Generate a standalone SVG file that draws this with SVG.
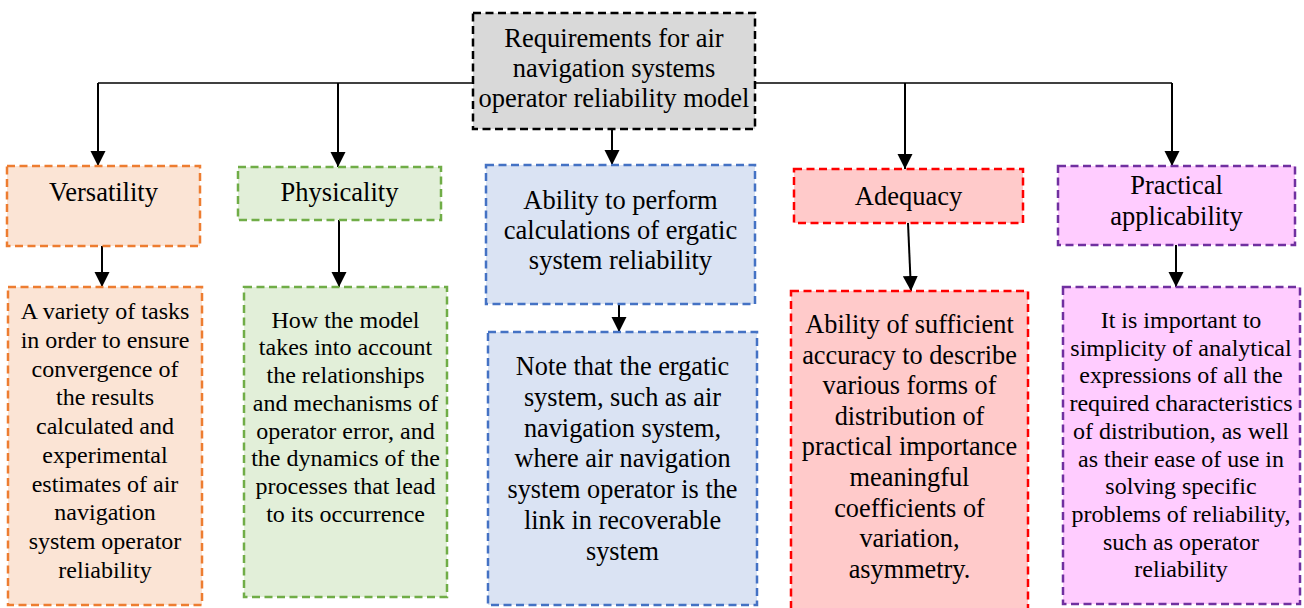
<svg xmlns="http://www.w3.org/2000/svg" width="1304" height="608" viewBox="0 0 1304 608">
  <style>
    text { font-family: "Liberation Serif", "Times New Roman", serif; fill: #000; text-anchor: middle; }
    .h { font-size: 26.5px; }
    .d { font-size: 24px; }
    .d26 { font-size: 26.3px; }
    .box { stroke-width: 2.5; stroke-dasharray: 8 4.5; }
    .root { fill: #d9d9d9; stroke: #000; }
    .org { fill: #fbe4d5; stroke: #ed7d31; }
    .grn { fill: #e2efd9; stroke: #70ad47; }
    .blu { fill: #dae3f3; stroke: #4472c4; }
    .red { fill: #ffcaca; stroke: #ff0000; }
    .pur { fill: #ffccff; stroke: #7030a0; }
    .wire { fill: none; stroke: #000; stroke-width: 1.6; }
    .arr { fill: none; stroke: #000; stroke-width: 2; marker-end: url(#head); }
  </style>
  <defs>
    <marker id="head" markerUnits="userSpaceOnUse" markerWidth="16" markerHeight="16" refX="15" refY="7.5" orient="auto">
      <path d="M0,0 L15,7.5 L0,15 z" fill="#000"/>
    </marker>
  </defs>

  <!-- connectors -->
  <g id="connectors">
    <path class="wire" d="M98,83 H1172"/>
    <path class="arr" d="M98,83 V166"/>
    <path class="arr" d="M338,83 V167"/>
    <path class="arr" d="M905,83 V169"/>
    <path class="arr" d="M1172,83 V166"/>
    <path class="arr" d="M612,129 V165"/>
    <path class="arr" d="M102,246 V287"/>
    <path class="arr" d="M339,220 V287"/>
    <path class="arr" d="M619,304 V332"/>
    <path class="arr" d="M908,223 L911,291"/>
    <path class="arr" d="M1176,245 V287"/>
  </g>

  <!-- root -->
  <g id="root">
    <rect class="box root" x="473" y="13" width="282" height="116"/>
    <text class="h" x="614" y="47">Requirements for air</text>
    <text class="h" x="614" y="77">navigation systems</text>
    <text class="h" x="614" y="107">operator reliability model</text>
  </g>

  <!-- requirement headings -->
  <g id="versatility">
    <rect class="box org" x="7" y="166" width="193" height="80"/>
    <text class="h" x="103.5" y="201">Versatility</text>
  </g>
  <g id="physicality">
    <rect class="box grn" x="238" y="167" width="203" height="53"/>
    <text class="h" x="339.5" y="201">Physicality</text>
  </g>
  <g id="calculations">
    <rect class="box blu" x="486" y="165" width="269" height="139"/>
    <text class="h" x="620.5" y="209">Ability to perform</text>
    <text class="h" x="620.5" y="239">calculations of ergatic</text>
    <text class="h" x="620.5" y="269">system reliability</text>
  </g>
  <g id="adequacy">
    <rect class="box red" x="794" y="169" width="229" height="54"/>
    <text class="h" x="908.5" y="205">Adequacy</text>
  </g>
  <g id="applicability">
    <rect class="box pur" x="1058" y="166" width="237" height="79"/>
    <text class="h" x="1176.5" y="194">Practical</text>
    <text class="h" x="1176.5" y="225">applicability</text>
  </g>

  <!-- descriptions -->
  <g id="versatility-detail">
    <rect class="box org" x="8" y="287" width="194" height="318"/>
    <text class="d" x="105" y="319.3">A variety of tasks</text>
    <text class="d" x="105" y="348">in order to ensure</text>
    <text class="d" x="105" y="376.7">convergence of</text>
    <text class="d" x="105" y="405.4">the results</text>
    <text class="d" x="105" y="434.1">calculated and</text>
    <text class="d" x="105" y="462.8">experimental</text>
    <text class="d" x="105" y="491.5">estimates of air</text>
    <text class="d" x="105" y="520.2">navigation</text>
    <text class="d" x="105" y="548.9">system operator</text>
    <text class="d" x="105" y="577.6">reliability</text>
  </g>
  <g id="physicality-detail">
    <rect class="box grn" x="244" y="287" width="203" height="310"/>
    <text class="d" x="345.5" y="327.7">How the model</text>
    <text class="d" x="345.5" y="355.4">takes into account</text>
    <text class="d" x="345.5" y="383.1">the relationships</text>
    <text class="d" x="345.5" y="410.8">and mechanisms of</text>
    <text class="d" x="345.5" y="438.5">operator error, and</text>
    <text class="d" x="345.5" y="466.2">the dynamics of the</text>
    <text class="d" x="345.5" y="493.9">processes that lead</text>
    <text class="d" x="345.5" y="521.6">to its occurrence</text>
  </g>
  <g id="calculations-detail">
    <rect class="box blu" x="488" y="332" width="269" height="273"/>
    <text class="d26" x="622.5" y="375">Note that the ergatic</text>
    <text class="d26" x="622.5" y="405.8">system, such as air</text>
    <text class="d26" x="622.5" y="436.6">navigation system,</text>
    <text class="d26" x="622.5" y="467.4">where air navigation</text>
    <text class="d26" x="622.5" y="498.2">system operator is the</text>
    <text class="d26" x="622.5" y="529">link in recoverable</text>
    <text class="d26" x="622.5" y="559.8">system</text>
  </g>
  <g id="adequacy-detail">
    <rect class="box red" x="791" y="291" width="237" height="322"/>
    <text class="d26" x="909.5" y="333">Ability of sufficient</text>
    <text class="d26" x="909.5" y="363.6">accuracy to describe</text>
    <text class="d26" x="909.5" y="394.2">various forms of</text>
    <text class="d26" x="909.5" y="424.8">distribution of</text>
    <text class="d26" x="909.5" y="455.4">practical importance</text>
    <text class="d26" x="909.5" y="486">meaningful</text>
    <text class="d26" x="909.5" y="516.6">coefficients of</text>
    <text class="d26" x="909.5" y="547.2">variation,</text>
    <text class="d26" x="909.5" y="577.8">asymmetry.</text>
  </g>
  <g id="applicability-detail">
    <rect class="box pur" x="1063" y="287" width="237" height="317"/>
    <text class="d" x="1181" y="328">It is important to</text>
    <text class="d" x="1181" y="355.7">simplicity of analytical</text>
    <text class="d" x="1181" y="383.4">expressions of all the</text>
    <text class="d" x="1181" y="411.1">required characteristics</text>
    <text class="d" x="1181" y="438.8">of distribution, as well</text>
    <text class="d" x="1181" y="466.5">as their ease of use in</text>
    <text class="d" x="1181" y="494.2">solving specific</text>
    <text class="d" x="1181" y="521.9">problems of reliability,</text>
    <text class="d" x="1181" y="549.6">such as operator</text>
    <text class="d" x="1181" y="577.3">reliability</text>
  </g>
</svg>
